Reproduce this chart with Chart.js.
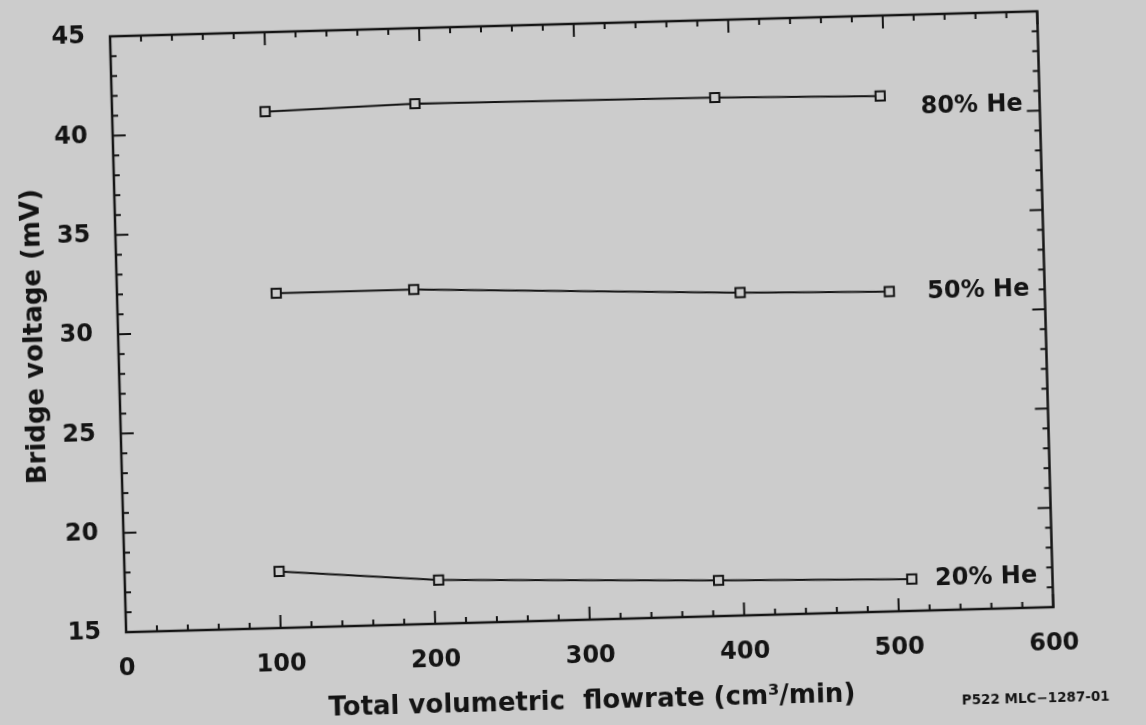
<!DOCTYPE html>
<html><head><meta charset="utf-8">
<script src="https://cdn.jsdelivr.net/npm/chart.js@4.4.0/dist/chart.umd.min.js"></script>
<style>
html,body{margin:0;padding:0;background:#cccccc;overflow:hidden;width:1146px;height:725px;}
#wrap{position:absolute;left:0;top:0;width:1146px;height:725px;transform:rotate(-1.55deg);transform-origin:573px 362.5px;}
canvas{display:block;}
</style></head><body>
<div id="wrap"><canvas id="c" width="1146" height="725"></canvas></div>
<script>
// ---- data ----
const seriesNames = ['80% He', '50% He', '20% He'];
const flow80 = [99, 196, 390, 497];
const volt80 = [41.0, 41.2, 41.1, 40.95];
const flow50 = [103, 192, 403, 499.5];
const volt50 = [31.85, 31.85, 31.25, 31.1];
const flow20 = [100, 203, 384, 509];
const volt20 = [17.85, 17.2, 16.8, 16.6];
const xTickLabels = ['0', '100', '200', '300', '400', '500', '600'];
const yTickLabels = ['15', '20', '25', '30', '35', '40', '45'];
const xTitle = 'Total volumetric  flowrate (cm\u00B3/min)';
const yTitle = 'Bridge voltage (mV)';
const footnote = 'P522 MLC\u22121287-01';

// ---- styling ----
const ink = '#141414';
const paper = '#cccccc';
Chart.defaults.font.family = "'DejaVu Sans', sans-serif";
Chart.defaults.color = ink;

const toPts = (xs, ys) => xs.map((v, i) => ({x: v, y: ys[i]}));
const mk = (label, xs, ys) => ({
  label, data: toPts(xs, ys), showLine: true, tension: 0,
  borderColor: ink, borderWidth: 2,
  pointStyle: 'rect', pointRadius: 6.5, pointBorderWidth: 2,
  pointBorderColor: ink, pointBackgroundColor: paper
});

const frame = {
  id: 'frame',
  beforeDatasetsDraw(chart) {
    const {ctx, chartArea: a, scales: {x, y}} = chart;
    ctx.save();
    ctx.strokeStyle = ink;
    ctx.lineWidth = 2.5;
    ctx.strokeRect(a.left, a.top, a.right - a.left, a.bottom - a.top);
    ctx.lineWidth = 2;
    const seg = (x1, y1, x2, y2) => { ctx.beginPath(); ctx.moveTo(x1, y1); ctx.lineTo(x2, y2); ctx.stroke(); };
    x.ticks.forEach(t => {
      const p = x.getPixelForValue(t.value);
      const L = t.value % 100 === 0 ? 13 : 6;
      seg(p, a.bottom, p, a.bottom - L);
      seg(p, a.top, p, a.top + L);
    });
    y.ticks.forEach(t => {
      const p = y.getPixelForValue(t.value);
      const L = t.value % 5 === 0 ? 13 : 6;
      seg(a.left, p, a.left + L, p);
      seg(a.right, p, a.right - L, p);
    });
    ctx.restore();
  },
  afterDatasetsDraw(chart) {
    const {ctx, chartArea: a, scales: {x, y}} = chart;
    ctx.save();
    ctx.fillStyle = ink;
    ctx.font = "bold 24px 'DejaVu Sans', sans-serif";
    ctx.textAlign = 'left';
    ctx.textBaseline = 'middle';
    const anchors = [[523, 40.35], [524, 31.0], [524, 16.55]];
    seriesNames.forEach((n, i) => {
      ctx.fillText(n, x.getPixelForValue(anchors[i][0]), y.getPixelForValue(anchors[i][1]));
    });
    ctx.font = "bold 13.5px 'DejaVu Sans', sans-serif";
    ctx.textAlign = 'center';
    ctx.fillText(footnote, a.right - 20, a.bottom + 91);
    ctx.restore();
  }
};

new Chart(document.getElementById('c'), {
  type: 'scatter',
  data: { datasets: [mk(seriesNames[0], flow80, volt80), mk(seriesNames[1], flow50, volt50), mk(seriesNames[2], flow20, volt20)] },
  options: {
    responsive: false, animation: false,
    layout: { autoPadding: false, padding: { top: 24, right: 99.5, left: 0, bottom: 0 } },
    plugins: { legend: { display: false }, tooltip: { enabled: false } },
    scales: {
      x: {
        type: 'linear', min: 0, max: 600,
        afterFit(s) { s.height = 105; s.paddingLeft = 0; s.paddingRight = 0; },
        grid: { display: false, drawTicks: false }, border: { display: false },
        ticks: { stepSize: 20, autoSkip: false, maxRotation: 0, padding: 22, color: ink,
          font: { size: 24, weight: 'bold' },
          callback: v => (v % 100 === 0 ? xTickLabels[v / 100] : '') },
        title: { display: true, text: xTitle, color: ink, font: { size: 26, weight: 'bold' }, padding: { top: 0, bottom: 7 } }
      },
      y: {
        type: 'linear', min: 15, max: 45,
        afterFit(s) { s.width = 119; s.paddingTop = 0; s.paddingBottom = 0; },
        grid: { display: false, drawTicks: false }, border: { display: false },
        ticks: { stepSize: 1, autoSkip: false, padding: 25, color: ink,
          font: { size: 24, weight: 'bold' },
          callback: v => (v % 5 === 0 ? yTickLabels[(v - 15) / 5] : '') },
        title: { display: true, text: yTitle, color: ink, font: { size: 26, weight: 'bold' }, padding: { top: 21, bottom: 0 } }
      }
    }
  },
  plugins: [frame]
});
</script>
</body></html>
